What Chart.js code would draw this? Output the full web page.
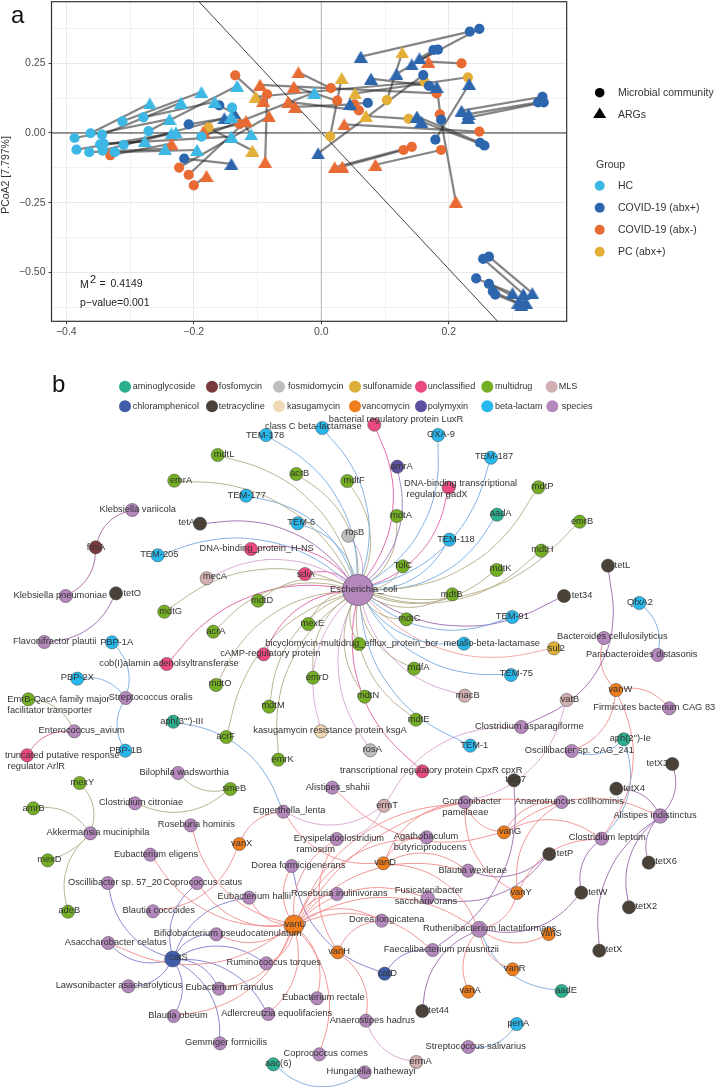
<!DOCTYPE html>
<html>
<head>
<meta charset="utf-8">
<title>PCoA and network</title>
<script src="https://cdn.jsdelivr.net/npm/chart.js@4"></script>
<style>
  html, body { margin: 0; padding: 0; background: #fff; }
  #wrap { position: relative; width: 715px; height: 1087px; overflow: hidden; }
  canvas { position: absolute; left: 0; display: block; }
  #pcoa { top: 0; }
  #network { top: 340px; }
</style>
</head>
<body>
<div id="wrap">
  <canvas id="network" width="715" height="747"></canvas>
  <canvas id="pcoa" width="715" height="340"></canvas>
</div>
<script>
'use strict'

// panel a: each community point is paired by index with one ARG triangle
let hcCommunity = [[-0.362, -0.001], [-0.344, -0.006], [-0.312, 0.042], [-0.279, 0.056], [-0.271, 0.007], [-0.387, -0.018], [-0.347, -0.041], [-0.384, -0.060], [-0.364, -0.069], [-0.324, -0.069], [-0.343, -0.063], [-0.310, -0.043], [-0.188, -0.013], [-0.140, 0.091], [-0.341, -0.039]];
let hcArgs = [[-0.269, 0.106], [-0.220, 0.109], [-0.188, 0.147], [-0.167, 0.112], [-0.132, 0.169], [-0.238, 0.050], [-0.277, -0.029], [-0.235, -0.001], [-0.245, -0.057], [-0.195, -0.061], [-0.141, 0.059], [-0.228, 0.002], [-0.011, 0.145], [-0.110, -0.005], [-0.141, -0.013]];

let abxPosCommunity = [[-0.208, 0.031], [-0.160, 0.099], [-0.215, -0.092], [0.233, 0.364], [0.248, 0.374], [0.176, 0.298], [0.183, 0.299], [0.160, 0.208], [0.169, 0.169], [0.073, 0.108], [0.179, -0.024], [0.188, 0.047], [0.249, -0.035], [0.256, -0.045], [0.347, 0.130], [0.340, 0.110], [0.349, 0.110], [0.263, -0.444], [0.254, -0.452], [0.243, -0.522], [0.263, -0.542], [0.269, -0.569], [0.273, -0.580]];
let abxPosArgs = [[-0.152, 0.053], [-0.137, 0.071], [-0.141, -0.111], [0.062, 0.274], [0.142, 0.246], [0.154, 0.268], [0.118, 0.212], [-0.005, -0.073], [0.078, 0.195], [0.045, 0.104], [0.232, 0.176], [0.181, 0.166], [0.150, 0.059], [0.157, 0.041], [0.220, 0.080], [0.231, 0.068], [0.230, 0.055], [0.331, -0.575], [0.317, -0.578], [0.300, -0.575], [0.321, -0.609], [0.309, -0.609], [0.314, -0.617]];

let abxNegCommunity = [[-0.135, 0.207], [-0.085, 0.139], [-0.128, 0.032], [-0.331, -0.080], [-0.223, -0.124], [-0.208, -0.150], [-0.200, -0.188], [0.015, 0.161], [0.025, 0.116], [0.052, 0.103], [0.059, 0.081], [0.181, 0.142], [0.220, 0.250], [0.248, 0.005], [0.142, -0.050], [0.129, -0.061], [0.188, -0.061], [0.186, 0.067]];
let abxNegArgs = [[-0.091, 0.115], [-0.088, -0.104], [-0.185, 0.005], [-0.235, -0.038], [-0.082, 0.060], [-0.118, 0.043], [-0.180, -0.154], [-0.036, 0.218], [-0.043, 0.166], [-0.041, 0.094], [-0.052, 0.112], [-0.096, 0.173], [0.168, 0.256], [0.036, 0.031], [0.021, -0.123], [0.033, -0.121], [0.085, -0.114], [0.211, -0.246]];

let pcCommunity = [[-0.177, 0.019], [0.014, -0.012], [0.103, 0.118], [0.137, 0.051], [0.162, 0.184], [0.230, 0.200]];
let pcArgs = [[-0.108, -0.063], [0.032, 0.197], [0.127, 0.289], [0.070, 0.061], [-0.103, 0.130], [0.053, 0.142]];

let xTickValues = [-0.4, -0.3, -0.2, -0.1, 0, 0.1, 0.2, 0.3];
let xTickLabels = ['\u22120.4', '', '\u22120.2', '', '0.0', '', '0.2', ''];
let yTickValues = [-0.625, -0.5, -0.375, -0.25, -0.125, 0, 0.125, 0.25, 0.375];
let yTickLabels = ['', '\u22120.50', '', '\u22120.25', '', '0.00', '', '0.25', ''];

let groupNames = ['HC', 'COVID-19 (abx+)', 'COVID-19 (abx-)', 'PC (abx+)'];
let groupColors = ['#3db7e4', '#2e66ae', '#e76b33', '#e3af36'];

let diagonalLine = [[-0.1918, 0.4713], [0.2767, -0.676]];

// panel b: node positions are values on the network's own x and y scales
let aminoglycoside = [['aadA', 497, 514.7], ["aph(3''')-III", 173.3, 721.7], ['aph(2\'\')-Ie', 623.7, 739.3], ['aadE', 561.7, 991], ['aac(6)', 273.3, 1064.3]];
let fosfomycin = [['fosA', 95.7, 547.3]];
let fosmidomycin = [['rosB', 348.3, 535.7], ['rosA', 370.3, 750.3]];
let sulfonamide = [['sul2', 554, 648.3]];
let unclassified = [['bacterial regulatory protein LuxR', 374.3, 424.7], ['DNA-binding transcriptional regulator gadX', 448.7, 487.7], ['DNA-binding_protein_H-NS', 251, 549], ['sdiA', 305, 574], ['cAMP-regulatory protein', 263.7, 654.3], ['cob(I)alamin adenolsyltransferase', 166.7, 664], ['truncated putative response regulator ArlR', 27, 755.3], ['transcriptional regulatory protein CpxR cpxR', 422.3, 771.3]];
let multidrug = [['mdtL', 217.7, 455], ['acrB', 296.3, 474], ['mdtF', 347.3, 481], ['emrA', 174.3, 480.7], ['mdtP', 538.3, 487.3], ['mdtA', 396.7, 516], ['emrB', 579.7, 521.7], ['mdtH', 541.3, 550.7], ['mdtK', 496.7, 570], ['TolC', 402.7, 566.3], ['mdtG', 164.3, 611.7], ['mdtD', 258, 600.7], ['acrA', 213.3, 631.7], ['mexE', 308.3, 624], ['bicyclomycin-multidrug_efflux_protein_bcr', 359, 644], ['mdtO', 216, 685], ['EmrB-QacA family major facilitator transporter', 28.3, 699.3], ['emrD', 313, 677.7], ['mdtM', 269, 706.7], ['acrF', 226.3, 737], ['emrK', 278.3, 759.7], ['smeB', 230.3, 789], ['mexY', 79.7, 783], ['amrB', 33.3, 808.3], ['mexD', 47.7, 860.3], ['adeB', 68, 911.7], ['mdtB', 452.3, 594.3], ['mdtC', 406.3, 619.3], ['mdfA', 414, 668.7], ['mdtN', 364.7, 696.7], ['mdtE', 416, 719.7]];
let mls = [['mecA', 206.7, 578.3], ['macB', 464.7, 695.7], ['vatB', 566.7, 700], ['ermT', 384, 805.7], ['ermA', 416.3, 1062]];
let chloramphenicol = [['catS', 172.7, 959], ['catD', 384.7, 973.7]];
let tetracycline = [['tetL', 608, 565.7], ['tetA', 200, 523.7], ['tetO', 116, 593.3], ['tet34', 564, 596], ['tetX3', 672.3, 764], ['tet37', 514, 780.3], ['tetX4', 616.3, 788.7], ['tetP', 549.3, 854], ['tetX6', 648.7, 862.7], ['tetW', 581.3, 892.7], ['tetX2', 629, 907.3], ['tetX', 599.3, 950.7], ['tet44', 422.3, 1011]];
let kasugamycin = [['kasugamycin resistance protein ksgA', 321, 731.3]];
let vancomycin = [['vanW', 616, 690], ['vanG', 504, 832.3], ['vanX', 239.3, 844], ['vanD', 383.3, 863.3], ['vanY', 517, 893], ['vanU', 294, 925], ['vanS', 548.7, 934], ['vanH', 337.7, 952.3], ['vanR', 512.7, 969.3], ['vanA', 468.3, 991.7]];
let polymyxin = [['amrA', 397.3, 466.7]];
let betaLactam = [['TEM-178', 266, 435], ['class C beta-lactamase', 322.3, 428], ['OXA-9', 438, 435], ['TEM-187', 491, 457.7], ['TEM-177', 246, 495.7], ['TEM-118', 449.3, 539.7], ['TEM-6', 297.7, 523.3], ['TEM-205', 157.7, 555.3], ['PBP-1A', 112, 642.3], ['PBP-2X', 77.3, 678.7], ['PBP-1B', 125.3, 750.7], ['QfxA2', 639.3, 603], ['TEM-91', 512.3, 617], ['metallo-beta-lactamase', 464, 643.7], ['TEM-75', 511, 675], ['TEM-1', 470.3, 745.7], ['penA', 516.7, 1024]];
let species = [['Escherichia_coli', 358, 590], ['Klebsiella variicola', 132.3, 510], ['Klebsiella pneumoniae', 65.7, 596], ['Flavonifractor plautii', 44.3, 642], ['Streptococcus oralis', 125.7, 698], ['Enterococcus_avium', 74.3, 731.3], ['Bilophila wadsworthia', 178, 773], ['Clostridium citroniae', 135, 803.3], ['Roseburia hominis', 190.7, 825.3], ['Eggerthella_lenta', 283.3, 811.7], ['Akkermansia muciniphila', 90.3, 833.3], ['Alistipes_shahii', 332.3, 787.7], ['Bacteroides cellulosilyticus', 604, 638], ['Parabacteroides distasonis', 657.7, 655], ['Firmicutes bacterium CAG 83', 669.3, 708.3], ['Clostridium asparagiforme', 521.3, 727], ['Oscillibacter sp. CAG_241', 571.7, 751], ['Gordonibacter pamelaeae', 464.7, 802.3], ['Anaerotruncus colihominis', 561.7, 802], ['Alistipes indistinctus', 660.3, 816], ['Agathobaculum butyriciproducens', 426.7, 837.3], ['Erysipelatoclostridium ramosum', 336.7, 839], ['Eubacterium eligens', 150.3, 854.7], ['Dorea formicigenerans', 291.7, 866], ['Oscillibacter sp. 57_20', 107.7, 883], ['Coprococcus catus', 197, 883], ['Blautia wexlerae', 468, 870.7], ['Clostridium leptum', 601.7, 838.7], ['Fusicatenibacter saccharivorans', 427.7, 897.7], ['Roseburia inulinivorans', 337, 894], ['Eubacterium hallii', 249, 897.7], ['Blautia coccoides', 153, 911.3], ['Dorea longicatena', 381.7, 920.7], ['Ruthenibacterium lactatiformans', 479.3, 929.3], ['Bifidobacterium pseudocatenulatum', 216.3, 934.3], ['Asaccharobacter celatus', 108.3, 943], ['Faecalibacterium prausnitzii', 432.7, 950], ['Ruminococcus torques', 266.3, 963.3], ['Lawsonibacter asacharolyticus', 128.3, 986.3], ['Eubacterium ramulus', 219, 988.7], ['Eubacterium rectale', 317, 998.3], ['Blautia obeum', 173.7, 1016], ['Adlercreutzia equolifaciens', 268.3, 1014], ['Anaerostipes hadrus', 366, 1020.7], ['Streptococcus salivarius', 468.3, 1047], ['Gemmiger formicilis', 220, 1043.3], ['Coprococcus comes', 319.3, 1054.3], ['Hungatella hathewayi', 364.7, 1072.3]];

// who links to what, species first
let coliLinks = ['TEM-178', 'class C beta-lactamase', 'bacterial regulatory protein LuxR', 'OXA-9', 'TEM-187', 'mdtL', 'acrB', 'mdtF', 'emrA', 'TEM-177', 'amrA', 'DNA-binding transcriptional regulator gadX', 'mdtP', 'aadA', 'mdtA', 'emrB', 'TEM-118', 'mdtH', 'mdtK', 'TolC', 'rosB', 'tetA', 'TEM-6', 'TEM-205', 'DNA-binding_protein_H-NS', 'mecA', 'sdiA', 'mdtG', 'mdtD', 'acrA', 'mexE', 'cAMP-regulatory protein', 'bicyclomycin-multidrug_efflux_protein_bcr', 'cob(I)alamin adenolsyltransferase', 'mdtO', 'emrD', 'mdtM', 'acrF', 'kasugamycin resistance protein ksgA', 'emrK', 'mdtB', 'mdtC', 'TEM-91', 'metallo-beta-lactamase', 'sul2', 'mdfA', 'TEM-75', 'mdtN', 'macB', 'mdtE', 'rosA', 'TEM-1', 'transcriptional regulatory protein CpxR cpxR', 'tet34'];
let vanUPartners = ['Eubacterium eligens', 'Coprococcus catus', 'Eubacterium hallii', 'Roseburia hominis', 'Bifidobacterium pseudocatenulatum', 'Dorea formicigenerans', 'Roseburia inulinivorans', 'Dorea longicatena', 'Faecalibacterium prausnitzii', 'Ruthenibacterium lactatiformans', 'Agathobaculum butyriciproducens', 'Gordonibacter pamelaeae', 'Anaerotruncus colihominis', 'Ruminococcus torques', 'Eubacterium ramulus', 'Blautia obeum', 'Adlercreutzia equolifaciens', 'Eubacterium rectale', 'Coprococcus comes', 'Asaccharobacter celatus', 'Fusicatenibacter saccharivorans', 'Blautia wexlerae', 'Erysipelatoclostridium ramosum'];
let catSPartners = ['Oscillibacter sp. 57_20', 'Coprococcus catus', 'Eubacterium hallii', 'Bifidobacterium pseudocatenulatum', 'Asaccharobacter celatus', 'Lawsonibacter asacharolyticus', 'Blautia obeum', 'Gemmiger formicilis', 'Eubacterium ramulus', 'Ruminococcus torques', 'Adlercreutzia equolifaciens'];
let otherLinks = [
  ['Klebsiella variicola', 'fosA'], ['Klebsiella pneumoniae', 'fosA'], ['Flavonifractor plautii', 'tetO'],
  ['Streptococcus oralis', 'PBP-1A'], ['Streptococcus oralis', 'PBP-2X'], ['Streptococcus oralis', 'PBP-1B'],
  ['Enterococcus_avium', 'EmrB-QacA family major facilitator transporter'], ['Enterococcus_avium', 'truncated putative response regulator ArlR'],
  ['Bilophila wadsworthia', 'smeB'], ['Clostridium citroniae', 'smeB'],
  ['Akkermansia muciniphila', 'mexY'], ['Akkermansia muciniphila', 'amrB'], ['Akkermansia muciniphila', 'mexD'], ['Akkermansia muciniphila', 'adeB'],
  ['Eggerthella_lenta', "aph(3''')-III"], ['Eggerthella_lenta', 'ermT'], ['Eggerthella_lenta', 'vanX'], ['Eggerthella_lenta', 'vanD'],
  ['Alistipes_shahii', 'vanG'], ['Clostridium asparagiforme', 'ermT'], ['Erysipelatoclostridium ramosum', 'ermT'],
  ['Clostridium asparagiforme', 'tetL'], ['Gordonibacter pamelaeae', 'vatB'], ['Faecalibacterium prausnitzii', 'tet37'],
  ['Ruthenibacterium lactatiformans', 'tet44'], ['Clostridium leptum', 'vanY'], ['Ruthenibacterium lactatiformans', 'vanY'], ['Gordonibacter pamelaeae', 'vanY'], ['Anaerotruncus colihominis', 'vanY'],
  ['Gordonibacter pamelaeae', 'vanG'], ['Anaerotruncus colihominis', 'vanG'], ['Alistipes indistinctus', 'vanG'], ['Clostridium leptum', 'vanG'],
  ['Blautia wexlerae', 'vanD'], ['Ruthenibacterium lactatiformans', 'vanD'], ['Gordonibacter pamelaeae', 'vanD'], ['Agathobaculum butyriciproducens', 'vanD'],
  ['Blautia coccoides', 'vanX'], ['Dorea formicigenerans', 'catD'], ['Faecalibacterium prausnitzii', 'catD'],
  ['Dorea longicatena', 'vanH'], ['Anaerostipes hadrus', 'vanH'], ['Erysipelatoclostridium ramosum', 'vanH'],
  ['Ruthenibacterium lactatiformans', 'vanS'], ['Ruthenibacterium lactatiformans', 'vanR'], ['Ruthenibacterium lactatiformans', 'vanA'], ['Ruthenibacterium lactatiformans', 'aadE'], ['Ruthenibacterium lactatiformans', 'tetW'],
  ['Oscillibacter sp. CAG_241', 'vanW'], ['Oscillibacter sp. CAG_241', "aph(2'')-Ie"], ['Clostridium leptum', "aph(2'')-Ie"], ['Clostridium leptum', 'vanW'],
  ['Bacteroides cellulosilyticus', 'vanW'], ['Firmicutes bacterium CAG 83', 'vanW'], ['Parabacteroides distasonis', 'QfxA2'],
  ['Alistipes indistinctus', 'tetX3'], ['Alistipes indistinctus', 'tetX4'], ['Alistipes indistinctus', 'tetX6'], ['Alistipes indistinctus', 'tetX2'], ['Alistipes indistinctus', 'tetX'],
  ['Clostridium leptum', 'tetW'], ['Streptococcus salivarius', 'penA'], ['Anaerostipes hadrus', 'ermA'], ['Hungatella hathewayi', 'aac(6)'],
  ['Blautia wexlerae', 'tetP'], ['Fusicatenibacter saccharivorans', 'tetP']
];

let legendNames = ['aminoglycoside', 'fosfomycin', 'fosmidomycin', 'sulfonamide', 'unclassified', 'multidrug', 'MLS', 'chloramphenicol', 'tetracycline', 'kasugamycin', 'vancomycin', 'polymyxin', 'beta-lactam', 'species'];

// ---- styles and placement ----
const FONT = '"Liberation Sans", Arial, sans-serif';
Chart.defaults.font.family = FONT;
Chart.defaults.animation = false;

let kinds = [
  { nodes: aminoglycoside, fill: '#2bb08f', edge: '#74a9dc' },
  { nodes: fosfomycin, fill: '#7a3b3f', edge: '#a9629f' },
  { nodes: fosmidomycin, fill: '#bdbdbd', edge: '#d3a3d4' },
  { nodes: sulfonamide, fill: '#dcaf38', edge: '#f0a0a0' },
  { nodes: unclassified, fill: '#ec4a80', edge: '#de5fa3' },
  { nodes: multidrug, fill: '#74ae23', edge: '#b3ac86' },
  { nodes: mls, fill: '#d2afb0', edge: '#d9a3cf' },
  { nodes: chloramphenicol, fill: '#3e5ca8', edge: '#7e7bc8' },
  { nodes: tetracycline, fill: '#4a4238', edge: '#9a68ad' },
  { nodes: kasugamycin, fill: '#f1d9b5', edge: '#dba5d4' },
  { nodes: vancomycin, fill: '#f07d1c', edge: '#f08a8a' },
  { nodes: polymyxin, fill: '#5f519f', edge: '#9a7cc0' },
  { nodes: betaLactam, fill: '#26b7ec', edge: '#74a9dc' },
  { nodes: species, fill: '#b487bd', edge: '#b487bd' }
];

let legendSpots = [[125, 386.7, 132.7], [212, 386.7, 218.7], [279, 386.7, 288], [355, 386.7, 363], [421, 386.7, 427.7], [487.3, 386.7, 495], [551.7, 386.7, 558.7], [125, 406.3, 132.7], [212, 406.3, 218.7], [279, 406.3, 287], [355, 406.3, 361.7], [421, 406.3, 427.7], [487.3, 406.3, 495], [552.3, 406.3, 561.7]];

let nodeSizes = { 'Escherichia_coli': 15.7, 'vanU': 10, 'catS': 8, 'Ruthenibacterium lactatiformans': 8, 'Alistipes indistinctus': 7.3 };

let twoLineLabels = {
  'DNA-binding transcriptional regulator gadX': ['DNA-binding transcriptional', ' regulator gadX'],
  'EmrB-QacA family major facilitator transporter': ['EmrB-QacA family major', 'facilitator transporter'],
  'truncated putative response regulator ArlR': ['truncated putative response', ' regulator ArlR'],
  'Gordonibacter pamelaeae': ['Gordonibacter', 'pamelaeae'],
  'Agathobaculum butyriciproducens': ['Agathobaculum', 'butyriciproducens'],
  'Erysipelatoclostridium ramosum': ['Erysipelatoclostridium', ' ramosum'],
  'Fusicatenibacter saccharivorans': ['Fusicatenibacter', 'saccharivorans']
};

// label centre relative to node; two line labels give the left edge instead
let labelShift = {
  'TEM-178': [-1, 0], 'class C beta-lactamase': [-9, -1.3], 'bacterial regulatory protein LuxR': [21.7, -5.7], 'OXA-9': [3, -1], 'TEM-187': [3, -1],
  'mdtL': [6.3, -0.7], 'acrB': [3.4, -0.7], 'mdtF': [6.7, -1], 'emrA': [6.7, -0.7], 'TEM-177': [0.7, -0.4], 'amrA': [4.4, -0.7],
  'DNA-binding transcriptional regulator gadX': [-44.7, -4], 'mdtP': [4.4, -1.3], 'aadA': [3.7, -1], 'mdtA': [4.3, -1], 'emrB': [2.3, -0.7], 'TEM-118': [6.7, -0.7],
  'mdtH': [1, -1], 'tetL': [14.3, -0.7], 'mdtK': [4, -1.3], 'TolC': [0.3, -0.6], 'rosB': [6.4, -3], 'tetA': [-13.3, -1.4], 'TEM-6': [3.6, -1],
  'Klebsiella variicola': [5.4, -1], 'fosA': [0.3, 0.4], 'TEM-205': [1.6, -0.6], 'DNA-binding_protein_H-NS': [5.7, -0.7], 'mecA': [8.3, -1.6], 'sdiA': [0.7, 0],
  'Escherichia_coli': [5.7, -1], 'Klebsiella pneumoniae': [-5.4, -0.3], 'tetO': [16.3, 0.4], 'mdtG': [6.4, -0.7], 'mdtD': [4, -0.7], 'acrA': [2.7, -0.4],
  'Flavonifractor plautii': [10.4, -1], 'PBP-1A': [4.7, -0.3], 'mexE': [4, -0.3], 'cAMP-regulatory protein': [6.6, -0.6], 'bicyclomycin-multidrug_efflux_protein_bcr': [-7.3, -0.3],
  'cob(I)alamin adenolsyltransferase': [2.3, -1], 'mdtO': [4, -1.3], 'PBP-2X': [0, -1], 'Streptococcus oralis': [25, -1], 'EmrB-QacA family major facilitator transporter': [-21, -0.3],
  'emrD': [4.3, -0.7], 'mdtM': [4, -1], "aph(3''')-III": [8.4, 0], 'Enterococcus_avium': [7.4, -1], 'acrF': [-0.6, -0.7], 'kasugamycin resistance protein ksgA': [9, -1.3],
  'truncated putative response regulator ArlR': [-22, -0.3], 'PBP-1B': [0.4, -0.7], 'emrK': [4.4, -0.7], 'Bilophila wadsworthia': [6.3, -1], 'smeB': [4, -1],
  'mexY': [2.6, -0.7], 'amrB': [0.4, -0.3], 'Clostridium citroniae': [6, -0.6], 'Roseburia hominis': [5.6, -0.6], 'Eggerthella_lenta': [6, -1], 'Akkermansia muciniphila': [7.7, -1],
  'Alistipes_shahii': [5.4, -0.7], 'ermT': [3, -0.7], 'tet34': [18, -0.7], 'QfxA2': [0.7, -0.7], 'mdtB': [-0.6, -0.3], 'mdtC': [3, -1], 'TEM-91': [0, -0.7],
  'Bacteroides cellulosilyticus': [8.3, -1.3], 'Parabacteroides distasonis': [-16, -1], 'metallo-beta-lactamase': [27.7, -0.7], 'sul2': [2.3, -0.3], 'mdfA': [4.7, -1.4],
  'TEM-75': [5.3, -1.3], 'vanW': [4.3, -0.7], 'mdtN': [3.3, -1], 'macB': [3, -0.7], 'vatB': [3.3, -0.7], 'Firmicutes bacterium CAG 83': [-15, -1], 'mdtE': [2.7, -0.7],
  'Clostridium asparagiforme': [8, -1], "aph(2'')-Ie": [6.6, -1], 'TEM-1': [4, -0.7], 'rosA': [2, -0.6], 'Oscillibacter sp. CAG_241': [7.6, -1], 'tetX3': [-15, -1],
  'transcriptional regulatory protein CpxR cpxR': [8.9, -1.3], 'tet37': [1.7, -1], 'tetX4': [17.7, -0.7], 'Gordonibacter pamelaeae': [-22.4, -1.3], 'Anaerotruncus colihominis': [7.6, -1],
  'Alistipes indistinctus': [-5.3, -1], 'vanG': [6, -0.6], 'Agathobaculum butyriciproducens': [-33, -1.3], 'Erysipelatoclostridium ramosum': [-43, -1], 'vanX': [2.4, -0.7],
  'vanD': [1.7, -0.6], 'Eubacterium eligens': [5.7, -0.7], 'Dorea formicigenerans': [6.6, -1], 'Oscillibacter sp. 57_20': [7.3, -0.7], 'Coprococcus catus': [5.7, -0.7],
  'Blautia wexlerae': [4.7, -0.7], 'tetP': [15.7, -1], 'Clostridium leptum': [5.6, -1], 'tetX6': [17.3, -1.4], 'vanY': [4, -0.7], 'tetW': [16.4, -0.7],
  'Fusicatenibacter saccharivorans': [-33, -7.7], 'Roseburia inulinivorans': [2.3, -1], 'Eubacterium hallii': [5.3, -1], 'tetX2': [17.3, -1], 'Blautia coccoides': [5.7, -1],
  'Dorea longicatena': [5, -1], 'vanU': [1.3, -0.7], 'Ruthenibacterium lactatiformans': [10.4, -1.3], 'vanS': [2.3, -0.7], 'Bifidobacterium pseudocatenulatum': [11.4, -0.6],
  'Asaccharobacter celatus': [7.4, -1], 'Faecalibacterium prausnitzii': [8.6, -0.7], 'vanH': [1.3, -0.6], 'catS': [5.6, -1.7], 'Ruminococcus torques': [7.4, -1], 'tetX': [14.7, -1],
  'vanR': [2, -1], 'catD': [2.6, -0.7], 'Lawsonibacter asacharolyticus': [-9.3, -1], 'Eubacterium ramulus': [10.3, -1], 'aadE': [4.3, -0.7], 'vanA': [1.7, -1],
  'Eubacterium rectale': [6.3, -1], 'tet44': [16.4, -1], 'Blautia obeum': [4.3, -1], 'Adlercreutzia equolifaciens': [8.4, -1], 'Anaerostipes hadrus': [6.3, -0.7], 'penA': [1.6, -0.7],
  'Streptococcus salivarius': [7.4, -1], 'Gemmiger formicilis': [6, -1], 'ermA': [4.4, -1], 'Coprococcus comes': [6.4, -1], 'aac(6)': [5, -0.6], 'Hungatella hathewayi': [6.3, -0.6],
  'mexD': [1.6, -1], 'adeB': [1.3, -1]
};

// arcs bend to the right of species -> gene, a few bulge more or the other way
let arcBend = { 'Hungatella hathewayi|aac(6)': -0.2, 'Clostridium asparagiforme|tetL': 0.22, 'Akkermansia muciniphila|mexD': -0.08 };

// ---- panel a ----
function pairLines(community, args) {
  let lines = [];
  for (let i = 0; i < community.length; i++) {
    lines.push({
      type: 'scatter',
      showLine: true,
      data: [{ x: community[i][0], y: community[i][1] }, { x: args[i][0], y: args[i][1] }],
      borderColor: 'rgba(45,45,45,0.58)',
      borderWidth: 2.2,
      pointRadius: 0,
      order: 5
    });
  }
  return lines;
}

// triangle centred on its box, the built in one sits a bit high
function triangleMark(color) {
  let mark = document.createElement('canvas');
  mark.width = 14;
  mark.height = 12;
  let c = mark.getContext('2d');
  c.fillStyle = color;
  c.beginPath();
  c.moveTo(7, 0);
  c.lineTo(14, 12);
  c.lineTo(0, 12);
  c.closePath();
  c.fill();
  return mark;
}

function pointSet(rows, color, style, size) {
  return {
    type: 'scatter',
    data: rows.map(p => ({ x: p[0], y: p[1] })),
    backgroundColor: color,
    borderWidth: 0,
    pointStyle: style,
    pointRadius: size,
    order: 1
  };
}

function refLine(rows, color, width) {
  return {
    type: 'scatter',
    showLine: true,
    data: rows.map(p => ({ x: p[0], y: p[1] })),
    borderColor: color,
    borderWidth: width,
    pointRadius: 0,
    order: 8
  };
}

let pcoaDatasets = [
  refLine([[0, -0.676], [0, 0.4713]], '#b8b8b8', 1),
  refLine([[-0.4232, 0], [0.385, 0]], 'rgba(0,0,0,0.8)', 1),
  refLine(diagonalLine, '#111', 0.8)
];
let communities = [hcCommunity, abxPosCommunity, abxNegCommunity, pcCommunity];
let argSets = [hcArgs, abxPosArgs, abxNegArgs, pcArgs];
for (let g = 0; g < communities.length; g++) {
  pcoaDatasets = pcoaDatasets.concat(pairLines(communities[g], argSets[g]));
}
for (let g = 0; g < communities.length; g++) {
  pcoaDatasets.push(pointSet(communities[g], groupColors[g], 'circle', 5.1));
  pcoaDatasets.push(pointSet(argSets[g], groupColors[g], triangleMark(groupColors[g]), 7));
}

function writeText(ctx, text, x, y, size, color, align) {
  ctx.font = size + 'px ' + FONT;
  ctx.fillStyle = color;
  ctx.textAlign = align || 'left';
  ctx.textBaseline = 'middle';
  ctx.fillText(text, x, y);
}

let pcoaDecor = {
  id: 'pcoaDecor',
  afterDraw(chart) {
    let ctx = chart.ctx;
    let area = chart.chartArea;
    ctx.save();
    ctx.strokeStyle = '#333';
    ctx.lineWidth = 1.2;
    ctx.strokeRect(area.left, area.top, area.right - area.left, area.bottom - area.top);

    writeText(ctx, 'a', 11, 16, 24, '#111');
    writeText(ctx, 'PCoA1 [9.665%]', 295, 348, 10.5, '#333', 'center');

    ctx.save();
    ctx.translate(6.5, 175);
    ctx.rotate(-Math.PI / 2);
    writeText(ctx, 'PCoA2 [7.797%]', 0, 0, 10.5, '#333', 'center');
    ctx.restore();

    writeText(ctx, 'M', 80, 285, 10.5, '#222');
    writeText(ctx, '2', 90, 279.5, 11, '#222');
    writeText(ctx, '= ', 99.5, 284.5, 10.5, '#222');
    writeText(ctx, '0.4149', 110.5, 284.5, 10.5, '#222');
    writeText(ctx, 'p\u2212value=0.001', 80, 303, 10.5, '#222');

    // shape key
    ctx.fillStyle = '#000';
    ctx.beginPath();
    ctx.arc(599.7, 92.7, 4.8, 0, Math.PI * 2);
    ctx.fill();
    ctx.beginPath();
    ctx.moveTo(599.7, 107.5);
    ctx.lineTo(606.2, 118);
    ctx.lineTo(593.2, 118);
    ctx.closePath();
    ctx.fill();
    writeText(ctx, 'Microbial community', 618, 93, 10.5, '#333');
    writeText(ctx, 'ARGs', 618, 115, 10.5, '#333');

    // group key
    writeText(ctx, 'Group', 596, 165, 10.5, '#333');
    for (let i = 0; i < groupNames.length; i++) {
      let y = 185.7 + i * 22;
      ctx.fillStyle = groupColors[i];
      ctx.beginPath();
      ctx.arc(599.7, y, 5, 0, Math.PI * 2);
      ctx.fill();
      writeText(ctx, groupNames[i], 618, y, 10.5, '#333');
    }
    ctx.restore();
  }
};

new Chart(document.getElementById('pcoa'), {
  type: 'scatter',
  data: { datasets: pcoaDatasets },
  options: {
    responsive: false,
    devicePixelRatio: 1,
    events: [],
    layout: { autoPadding: false, padding: { left: 0, right: 148.3, top: 1.7, bottom: 0 } },
    plugins: { legend: { display: false }, tooltip: { enabled: false } },
    scales: {
      x: {
        min: -0.4232,
        max: 0.385,
        afterBuildTicks: s => { s.ticks = xTickValues.map(v => ({ value: v })); },
        afterFit: s => { s.height = 18.7; s.paddingLeft = 0; s.paddingRight = 0; },
        border: { display: false },
        grid: {
          color: c => (xTickLabels[c.index] ? '#e9e9e9' : '#f1f1f1'),
          tickColor: c => (xTickLabels[c.index] ? '#444' : 'rgba(0,0,0,0)'),
          tickLength: 3
        },
        ticks: {
          autoSkip: false,
          maxRotation: 0,
          padding: 2,
          color: '#4d4d4d',
          font: { size: 10.5 },
          callback: (v, i) => xTickLabels[i]
        }
      },
      y: {
        min: -0.676,
        max: 0.4713,
        afterBuildTicks: s => { s.ticks = yTickValues.map(v => ({ value: v })); },
        afterFit: s => { s.width = 51.5; s.paddingTop = 0; s.paddingBottom = 0; },
        border: { display: false },
        grid: {
          color: c => (yTickLabels[c.index] ? '#e9e9e9' : '#f1f1f1'),
          tickColor: c => (yTickLabels[c.index] ? '#444' : 'rgba(0,0,0,0)'),
          tickLength: 3
        },
        ticks: {
          autoSkip: false,
          padding: 3,
          color: '#4d4d4d',
          font: { size: 10.5 },
          callback: (v, i) => yTickLabels[i]
        }
      }
    }
  },
  plugins: [pcoaDecor]
});

// ---- panel b ----
let nodeIndex = {};
let nodePoints = [];
kinds.forEach(function (kind) {
  kind.nodes.forEach(function (row) {
    nodeIndex[row[0]] = { x: row[1], y: row[2], edge: kind.edge };
    nodePoints.push({ x: row[1], y: row[2], name: row[0], fill: kind.fill, size: nodeSizes[row[0]] || 6.6 });
  });
});

function arcDataset(speciesName, geneName) {
  let a = nodeIndex[speciesName];
  let b = nodeIndex[geneName];
  let key = speciesName + '|' + geneName;
  let bend = arcBend[key] === undefined ? 0.16 : arcBend[key];
  let dx = b.x - a.x;
  let dy = b.y - a.y;
  // five stops along the arc, the line element smooths between them
  let stops = [0, 0.25, 0.5, 0.75, 1].map(function (t) {
    let lift = 4 * t * (1 - t) * bend;
    return { x: a.x + dx * t - lift * dy, y: a.y + dy * t + lift * dx };
  });
  return {
    type: 'scatter',
    showLine: true,
    tension: 0.4,
    data: stops,
    borderColor: b.edge,
    borderWidth: 0.9,
    pointRadius: 0,
    order: 5
  };
}

let networkDatasets = [];
coliLinks.forEach(g => networkDatasets.push(arcDataset('Escherichia_coli', g)));
vanUPartners.forEach(s => networkDatasets.push(arcDataset(s, 'vanU')));
catSPartners.forEach(s => networkDatasets.push(arcDataset(s, 'catS')));
otherLinks.forEach(l => networkDatasets.push(arcDataset(l[0], l[1])));

networkDatasets.push({
  type: 'scatter',
  data: nodePoints,
  pointBackgroundColor: nodePoints.map(p => p.fill),
  pointBorderColor: 'rgba(70,70,70,0.85)',
  pointBorderWidth: 0.6,
  pointRadius: nodePoints.map(p => p.size),
  order: 1
});
networkDatasets.push({
  type: 'scatter',
  data: legendSpots.map(s => ({ x: s[0], y: s[1] })),
  pointBackgroundColor: kinds.map(k => k.fill),
  pointBorderWidth: 0,
  pointRadius: 6,
  order: 1
});

let networkText = {
  id: 'networkText',
  afterDatasetsDraw(chart) {
    let ctx = chart.ctx;
    let xs = chart.scales.x;
    let ys = chart.scales.y;
    ctx.save();
    writeText(ctx, 'b', xs.getPixelForValue(52), ys.getPixelForValue(385), 24, '#111');
    legendNames.forEach(function (name, i) {
      writeText(ctx, name, xs.getPixelForValue(legendSpots[i][2]), ys.getPixelForValue(legendSpots[i][1]), 9.1, '#333');
    });
    nodePoints.forEach(function (p) {
      let shift = labelShift[p.name] || [0, 0];
      let lines = twoLineLabels[p.name];
      let px = xs.getPixelForValue(p.x + shift[0]);
      let py = ys.getPixelForValue(p.y + shift[1]);
      if (lines) {
        writeText(ctx, lines[0], px, py, 9.3, '#333');
        writeText(ctx, lines[1], px, py + 11, 9.3, '#333');
      } else {
        writeText(ctx, p.name, px, py, 9.3, '#333', 'center');
      }
    });
    ctx.restore();
  }
};

new Chart(document.getElementById('network'), {
  type: 'scatter',
  data: { datasets: networkDatasets },
  options: {
    responsive: false,
    devicePixelRatio: 1,
    events: [],
    layout: { autoPadding: false, padding: 0 },
    plugins: { legend: { display: false }, tooltip: { enabled: false } },
    scales: {
      x: { display: false, min: 0, max: 715 },
      y: { display: false, min: 340, max: 1087, reverse: true }
    }
  },
  plugins: [networkText]
});
</script>
</body>
</html>
